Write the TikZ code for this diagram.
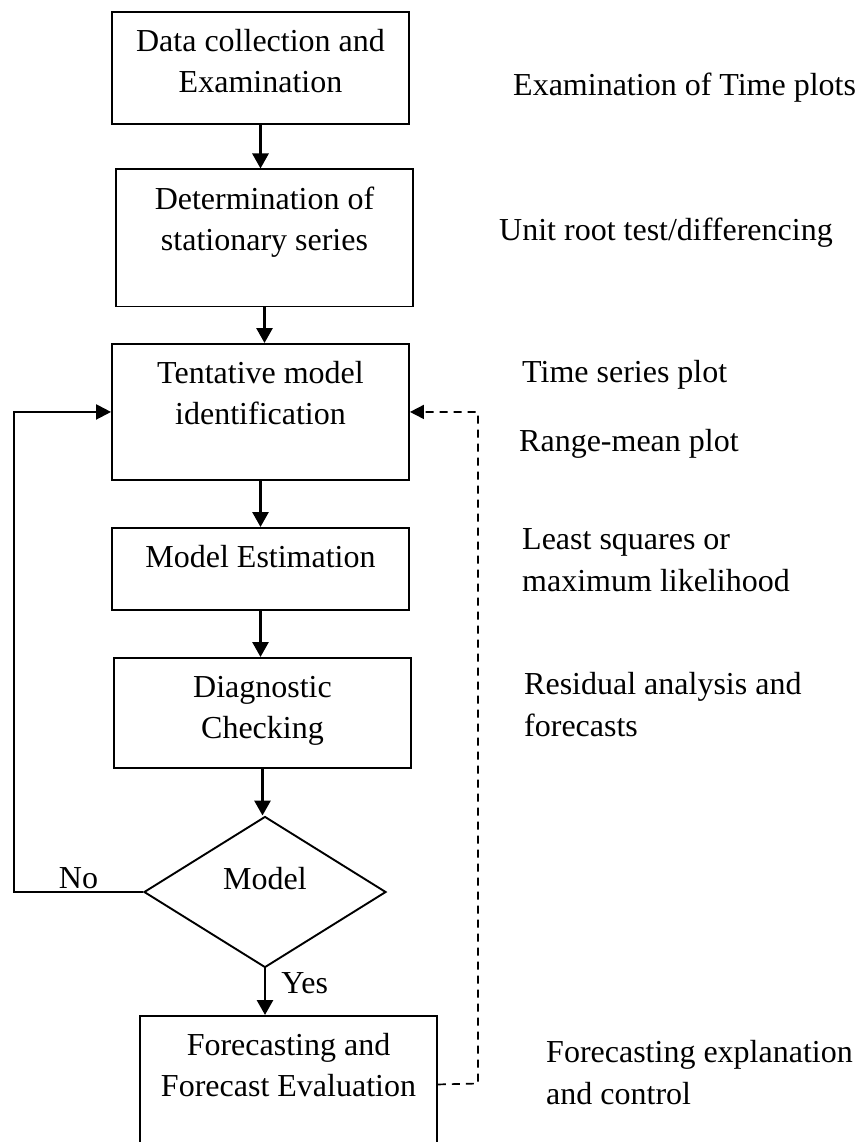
\documentclass[tikz,border=0pt]{standalone}
\usepackage{fontspec}
\setmainfont{Liberation Serif}
\usepackage{tikz}
\usetikzlibrary{positioning, arrows.meta, shapes.geometric}

\newcommand{\boxlines}[1]{\begin{tabular}[t]{@{}c@{}}#1\end{tabular}}
\newcommand{\notelines}[1]{\begin{tabular}[t]{@{}l@{}}#1\end{tabular}}

\tikzset{
  stagebox/.style={draw, line width=1.9pt, minimum width=297pt, inner sep=0pt,
    anchor=north, text height=40pt, font=\fontsize{32}{41}\selectfont},
  flow/.style={line width=2.8pt, -{Triangle[length=15pt,width=16pt]}},
  loopflow/.style={line width=2.2pt, -{Triangle[length=15pt,width=15pt]}},
  backflow/.style={line width=1.7pt, dash pattern=on 8pt off 6pt, -{Triangle[length=14pt,width=14pt]}},
  note/.style={anchor=base west, inner sep=0pt, font=\fontsize{32}{42}\selectfont},
  tag/.style={font=\fontsize{32}{41}\selectfont}
}

\begin{document}
\begin{tikzpicture}[x=1pt, y=-1pt]
\useasboundingbox (0,0) rectangle (863,1142);

\node[stagebox, text depth=72pt] (collect) at (260.5,11) {\boxlines{Data collection and\\Examination}};
\node[stagebox, text depth=97pt] (station) at (264.5,168.5) {\boxlines{Determination of\\stationary series}};
\node[stagebox, text depth=96pt] (tentative) at (260.5,343) {\boxlines{Tentative model\\identification}};
\node[stagebox, text depth=42pt] (estimate) at (260.5,527) {\boxlines{Model Estimation}};
\node[stagebox, text depth=70pt] (diagnose) at (262.5,657) {\boxlines{Diagnostic\\Checking}};
\node[diamond, draw, line width=1.9pt, minimum width=242pt, minimum height=151pt, inner sep=0pt,
  text height=20pt, text depth=26pt, tag] (adequate) at (265,892) {Model};
\node[stagebox, text depth=97pt] (forecast) at (288.5,1015) {\boxlines{Forecasting and\\Forecast Evaluation}};

\coordinate (noturn) at (14,892);
\coordinate (backturn) at (478,1083.5);

\draw[flow] (collect.south) -- (collect.south |- station.north);
\draw[flow] (station.south) -- (station.south |- tentative.north);
\draw[flow] (tentative.south) -- (tentative.south |- estimate.north);
\draw[flow] (estimate.south) -- (estimate.south |- diagnose.north);
\draw[flow] (diagnose.south) -- (diagnose.south |- adequate.north);
\draw[flow] (adequate.south) -- (adequate.south |- forecast.north)
  node[pos=0.32, right=15pt, tag, inner sep=0pt]{Yes};
\draw[loopflow] (adequate.west) -- node[above, tag, inner sep=2pt]{No} (noturn) |- (tentative.west);
\draw[backflow] (forecast.east) -- (backturn) |- (tentative.east);

\node[note] (timeplots) at (513,96) {Examination of Time plots};
\node[note] (unitroot) at (499,240) {Unit root test/differencing};
\node[note] (seriesplot) at (522,382) {Time series plot};
\node[note] (rangemean) at (519,451) {Range-mean plot};
\node[note] (leastsq) at (522,549) {\notelines{Least squares or\\maximum likelihood}};
\node[note] (residual) at (524,694) {\notelines{Residual analysis and\\forecasts}};
\node[note] (explain) at (546,1062) {\notelines{Forecasting explanation\\and control}};
\end{tikzpicture}
\end{document}
